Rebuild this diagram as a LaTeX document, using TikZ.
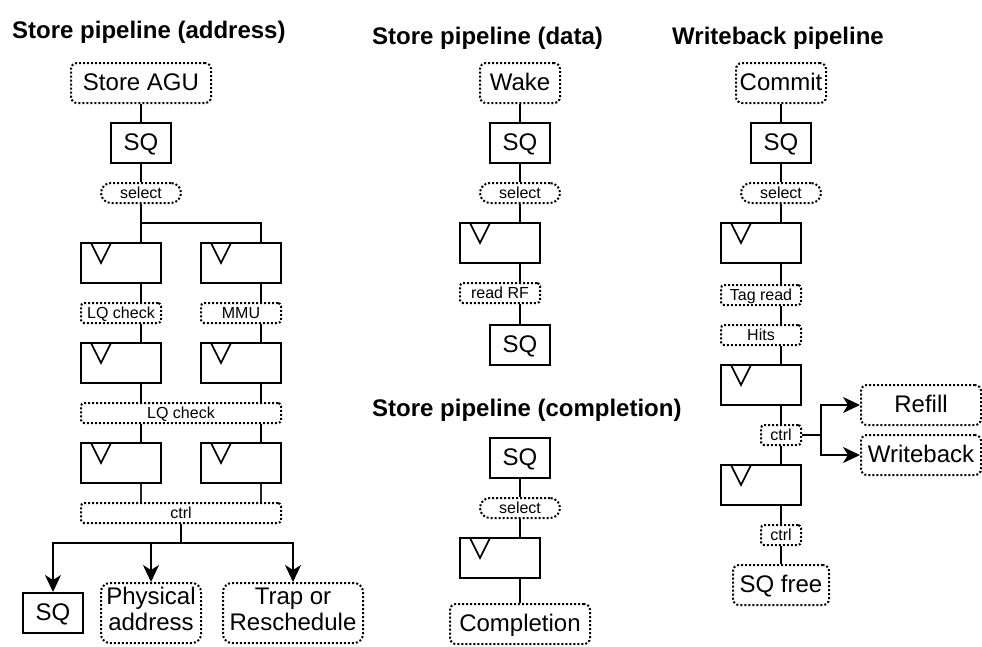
\documentclass[tikz,border=0pt]{standalone}
\usepackage{fontspec}
\setmainfont{Liberation Sans}
\usetikzlibrary{arrows.meta,calc}
\newcommand\fbig{\fontsize{24}{24}\selectfont}
\newcommand\fbigtwo{\fontsize{24}{26}\selectfont}
\newcommand\fsmall{\fontsize{16}{16}\selectfont}
\newcommand\ftitle{\fontsize{24}{24}\selectfont\bfseries}
\begin{document}
\begin{tikzpicture}[x=1pt,y=-1pt,
  box/.style={draw, line width=2pt, inner sep=0pt, minimum width=60pt, minimum height=40pt, font=\fbig, text height=14pt, text depth=0pt},
  ev/.style={draw, line width=2pt, dash pattern=on 2pt off 2pt, rounded corners=6pt, inner sep=0pt, minimum height=40pt, font=\fbig, text height=14pt, text depth=0pt},
  twoline/.style={ev, rounded corners=9pt, minimum height=60pt, align=center, font=\fbigtwo, text height=42pt, text depth=8pt},
  reg/.style={draw, line width=2pt, inner sep=0pt, minimum width=80pt, minimum height=40pt,
    path picture={\draw[line width=1.6pt] ($(path picture bounding box.north west)+(10,0)$) -- ++(10,20) -- ++(10,-20);}},
  lbl/.style={draw, line width=2pt, dash pattern=on 2pt off 2pt, rounded corners=3pt, inner sep=0pt, minimum width=80pt, minimum height=20pt, font=\fsmall, text height=10pt, text depth=0pt},
  pill/.style={lbl, rounded corners=9.9pt},
  conn/.style={line width=2pt},
  thin/.style={line width=1.2pt, black!85},
  arr/.style={line width=2pt, -{Stealth[length=17pt,width=16pt,inset=5pt]}},
  title/.style={anchor=base west, font=\ftitle, inner sep=0pt}
]
\useasboundingbox (0,0) rectangle (982,646);

% titles
\node[title] (t1) at (12,38) {Store pipeline (address)};
\node[title] (t2) at (372,44) {Store pipeline (data)};
\node[title] (t3) at (672,44) {Writeback pipeline};
\node[title] (t4) at (372,416) {Store pipeline (completion)};

% ===== left column =====
\node[ev, minimum width=140pt] (agu) at (141,83) {Store AGU};
\node[box] (sqA) at (141,143) {SQ};
\node[pill] (selA) at (141,193) {select};
\node[reg] (rA1) at (121,263) {};
\node[reg] (rB1) at (241,263) {};
\node[lbl] (lqA) at (121,313) {LQ check};
\node[lbl] (mmu) at (241,313) {MMU};
\node[reg] (rA2) at (121,363) {};
\node[reg] (rB2) at (241,363) {};
\node[lbl, minimum width=200pt] (lqW) at (181,413) {LQ check};
\node[reg] (rA3) at (121,463) {};
\node[reg] (rB3) at (241,463) {};
\node[lbl, minimum width=200pt] (ctrlA) at (181,513) {ctrl};
\node[box] (sqB) at (53,613) {SQ};
\node[twoline, minimum width=100pt] (phys) at (151,613) {Physical\\address};
\node[twoline, minimum width=140pt] (trap) at (293,613) {Trap or\\Reschedule};

\coordinate (jA) at (141,223);
\coordinate (xb) at (261,223);
\coordinate (jB) at (181,543);

\draw[conn] (agu.south) -- (sqA.north);
\draw[conn] (sqA.south) -- (selA.north);
\draw[conn] (selA.south) -- (jA) -- (jA |- rA1.north);
\draw[conn] (jA) -- (xb) -- (xb |- rB1.north);
\draw[conn] (jA |- rA1.south) -- (jA |- lqA.north);
\draw[conn] (xb |- rB1.south) -- (xb |- mmu.north);
\draw[conn] (jA |- lqA.south) -- (jA |- rA2.north);
\draw[conn] (xb |- mmu.south) -- (xb |- rB2.north);
\draw[conn] (jA |- rA2.south) -- (jA |- lqW.north);
\draw[conn] (xb |- rB2.south) -- (xb |- lqW.north);
\draw[conn] (jA |- lqW.south) -- (jA |- rA3.north);
\draw[conn] (xb |- lqW.south) -- (xb |- rB3.north);
\draw[thin] (jA |- rA3.south) -- (jA |- ctrlA.north);
\draw[thin] (xb |- rB3.south) -- (xb |- ctrlA.north);
\draw[arr] (ctrlA.south) -- (jB) -| (sqB.north);
\draw[arr] (jB) -| (phys.north);
\draw[arr] (jB) -| (trap.north);

% ===== middle column =====
\node[ev, minimum width=80pt] (wake) at (520,83) {Wake};
\node[box] (sqC) at (520,143) {SQ};
\node[pill] (selC) at (520,193) {select};
\node[reg] (rC) at (500,243) {};
\node[lbl] (rf) at (500,293) {read RF};
\node[box] (sqD) at (520,345) {SQ};

\draw[conn] (wake.south) -- (sqC.north);
\draw[conn] (sqC.south) -- (selC.north);
\draw[conn] (selC.south) -- (selC |- rC.north);
\draw[conn] (selC |- rC.south) -- (selC |- rf.north);
\draw[conn] (selC |- rf.south) -- (sqD.north);

\node[box] (sqE) at (520,458) {SQ};
\node[pill] (selE) at (520,508) {select};
\node[reg] (rE) at (500,558) {};
\node[ev, minimum width=140pt] (comp) at (520,624) {Completion};

\draw[conn] (sqE.south) -- (selE.north);
\draw[conn] (selE.south) -- (selE |- rE.north);
\draw[conn] (selE |- rE.south) -- (comp.north);

% ===== right column =====
\node[ev, minimum width=90pt] (commit) at (781,83) {Commit};
\node[box] (sqF) at (781,143) {SQ};
\node[pill] (selF) at (781,193) {select};
\node[reg] (rF1) at (761,243) {};
\node[lbl] (tag) at (761,295) {Tag read};
\node[lbl] (hits) at (761,335) {Hits};
\node[reg] (rF2) at (761,385) {};
\node[lbl, minimum width=40pt] (ctrlF) at (781,435) {ctrl};
\node[reg] (rF3) at (761,485) {};
\node[lbl, minimum width=40pt] (ctrlF2) at (781,535) {ctrl};
\node[ev, minimum width=96pt] (sqfree) at (781,585) {SQ free};
\node[ev, minimum width=120pt] (refill) at (921,405) {Refill};
\node[ev, minimum width=120pt] (wb) at (921,455) {Writeback};

\coordinate (jW) at (821,435);

\draw[conn] (commit.south) -- (sqF.north);
\draw[conn] (sqF.south) -- (selF.north);
\draw[conn] (selF.south) -- (selF |- rF1.north);
\draw[conn] (selF |- rF1.south) -- (selF |- tag.north);
\draw[conn] (selF |- tag.south) -- (selF |- hits.north);
\draw[conn] (selF |- hits.south) -- (selF |- rF2.north);
\draw[conn] (selF |- rF2.south) -- (ctrlF.north);
\draw[conn] (ctrlF.south) -- (ctrlF |- rF3.north);
\draw[conn] (ctrlF |- rF3.south) -- (ctrlF2.north);
\draw[conn] (ctrlF2.south) -- (sqfree.north);
\draw[arr] (ctrlF.east) -- (jW) |- (refill.west);
\draw[arr] (jW) |- (wb.west);
\end{tikzpicture}
\end{document}
